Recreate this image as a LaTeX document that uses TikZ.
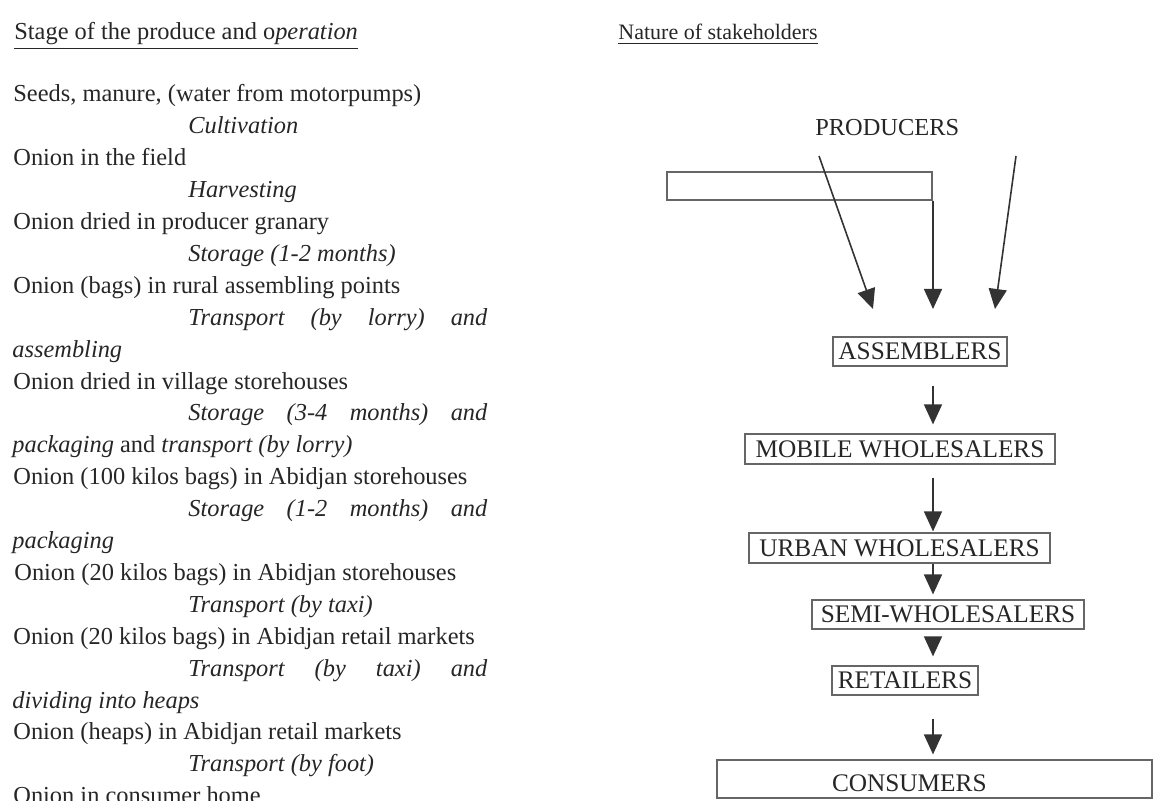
\documentclass[tikz,border=0pt]{standalone}
\usepackage{fontspec}
\setmainfont{Liberation Serif}
\usetikzlibrary{arrows.meta,calc}

\tikzset{
  stage/.style={anchor=base west, inner sep=0pt, text=black!85,
    font=\fontsize{12.2}{14}\selectfont},
  actor/.style={draw=black!60, line width=0.6pt, inner xsep=0pt, inner ysep=0pt,
    text=black!85, font=\fontsize{12.65}{14}\selectfont,
    text height=8.4pt, text depth=0pt},
  flow/.style={-{Triangle[length=10pt,width=9pt]}, line width=0.8pt, draw=black!80}
}
\newcommand\jst[1]{\makebox[149.5pt][s]{\itshape #1}}

\begin{document}
\begin{tikzpicture}[x=0.5pt,y=-0.5pt]
\useasboundingbox (0,0) rectangle (1168,801);
% stage of the produce and operation
\node[stage] (head1) at (14,40) {\underline{Stage of the produce and o\textit{peration}}};
\foreach \k/\xx/\txt in {
  0/13/{Seeds, manure, (water from motorpumps)},
  1/188/{\textit{Cultivation}},
  2/13/{Onion in the field},
  3/188/{\textit{Harvesting}},
  4/13/{Onion dried in producer granary},
  5/188/{\textit{Storage (1-2 months)}},
  6/13/{Onion (bags) in rural assembling points},
  7/188/{\jst{Transport (by lorry) and}},
  8/12/{\textit{assembling}},
  9/13/{Onion dried in village storehouses},
  10/188/{\jst{Storage (3-4 months) and}},
  11/12/{\textit{packaging} and \textit{transport (by lorry)}},
  12/13/{Onion (100 kilos bags) in Abidjan storehouses},
  13/188/{\jst{Storage (1-2 months) and}},
  14/12/{\textit{packaging}},
  15/14/{Onion (20 kilos bags) in Abidjan storehouses},
  16/188/{\textit{Transport (by taxi)}},
  17/13/{Onion (20 kilos bags) in Abidjan retail markets},
  18/188/{\jst{Transport (by taxi) and}},
  19/12/{\textit{dividing into heaps}},
  20/13/{Onion (heaps) in Abidjan retail markets},
  21/188/{\textit{Transport (by foot)}},
  22/13/{Onion in consumer home}}
  \node[stage] (s\k) at (\xx,{102+31.9*\k}) {\txt};

% nature of stakeholders
\node[stage, font=\fontsize{11}{13}\selectfont] (head2) at (618,40) {\underline{Nature of stakeholders}};
\node[stage] (prod) at (815,136) {PRODUCERS};
\node[actor, minimum width=132.5pt, minimum height=14pt] (blank) at (799.5,186) {};
\coordinate (axis) at (933,0);
\coordinate (p1) at (819,156);
\coordinate (p3) at (1016,156);
\coordinate (t1) at (873,309);
\coordinate (t2) at (933,309);
\coordinate (t3) at (995,309);
\draw[flow] (p1) -- (t1);
\draw[flow] (blank.south east -| axis) -- (t2);
\draw[flow] (p3) -- (t3);

\node[actor, minimum width=87pt, minimum height=14.5pt] (assem) at (920,351.5) {ASSEMBLERS};
\node[actor, minimum width=155pt, minimum height=15pt] (mobile) at (900,449) {MOBILE WHOLESALERS};
\node[actor, minimum width=150.5pt, minimum height=15pt] (urban) at (899.5,548) {URBAN WHOLESALERS};
\node[actor, minimum width=136pt, minimum height=14.5pt] (semi) at (948,614.5) {SEMI-WHOLESALERS};
\node[actor, minimum width=73pt, minimum height=14.5pt] (retail) at (905,680.5) {RETAILERS};
\node[actor, minimum width=217.5pt, minimum height=19pt, text height=12.4pt] (cons) at (934.5,779)
  {\makebox[217.5pt][l]{\hspace{57.5pt}CONSUMERS}};

\foreach \a/\b/\sa/\sb in {assem/mobile/9.5pt/4.5pt, mobile/urban/6.5pt/0.5pt,
    urban/semi/0pt/2.5pt, semi/retail/4.5pt/4.5pt, retail/cons/11.5pt/2.5pt}
  \draw[flow, shorten <=\sa, shorten >=\sb] (\a.south -| axis) -- (\b.north -| axis);
\end{tikzpicture}
\end{document}
